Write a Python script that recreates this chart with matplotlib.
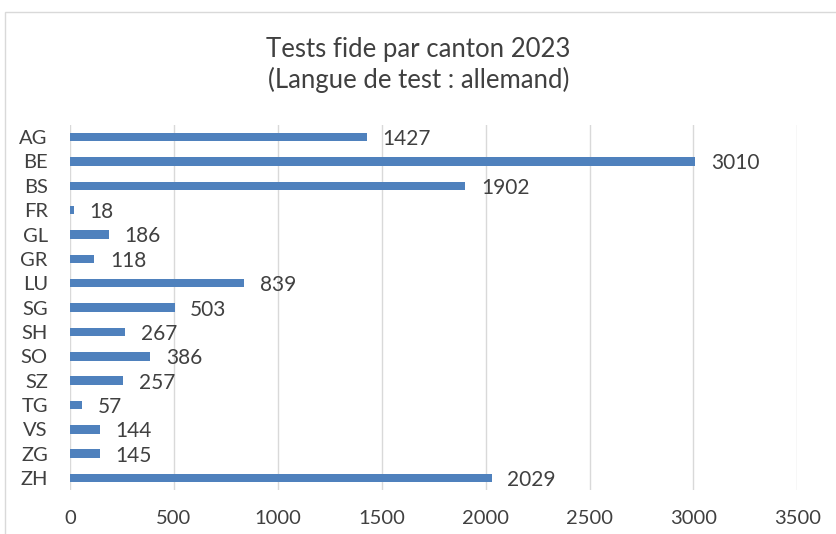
import matplotlib.pyplot as plt
from matplotlib.patches import Rectangle

# Data
cantons = ["AG", "BE", "BS", "FR", "GL", "GR", "LU", "SG", "SH", "SO", "SZ", "TG", "VS", "ZG", "ZH"]
tests = [1427, 3010, 1902, 18, 186, 118, 839, 503, 267, 386, 257, 57, 144, 145, 2029]
x_ticks = [0, 500, 1000, 1500, 2000, 2500, 3000, 3500]

plt.rcParams["font.family"] = ["Lato", "DejaVu Sans"]
text_color = "#404040"

fig = plt.figure(figsize=(8.37, 5.34), dpi=100)

# outer chart frame
fig.patches.append(Rectangle((5 / 837, -0.05), 835 / 837, 1 - 12 / 534 + 0.05,
                             transform=fig.transFigure, fill=False,
                             edgecolor="#d9d9d9", linewidth=1.0))

ax = fig.add_axes([0.0836, 0.082, 0.869, 0.684])
ypos = list(range(len(cantons)))
ax.barh(ypos, tests, height=0.35, color="#4f81bd", zorder=3)

for y, v in zip(ypos, tests):
    ax.text(v + 75, y + 0.08, str(v), va="center", ha="left", fontsize=15, color=text_color)

ax.set_xlim(0, 3500)
ax.set_ylim(len(cantons) - 0.5, -0.5)
ax.set_xticks(x_ticks)
ax.set_yticks(ypos)
ax.set_yticklabels(cantons)
ax.tick_params(axis="both", length=0, labelsize=14.5, colors=text_color)
ax.tick_params(axis="x", pad=14)
ax.tick_params(axis="y", pad=16)
ax.grid(axis="x", color="#d9d9d9", linewidth=1.0, zorder=0)
for s in ax.spines.values():
    s.set_visible(False)

fig.text(0.5, 1 - 65 / 534, "Tests fide par canton 2023\n(Langue de test : allemand)",
         ha="center", va="center", fontsize=18.5, color=text_color, linespacing=1.2)

plt.savefig("out.png", dpi=100)
